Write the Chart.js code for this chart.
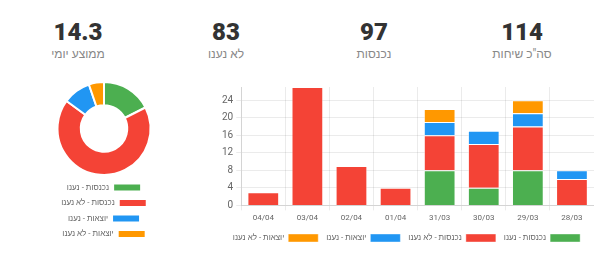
<!DOCTYPE html>
<html>
<head>
  <meta charset="utf-8">
  <title>Calls dashboard</title>
  <script src="https://cdn.jsdelivr.net/npm/chart.js@4/dist/chart.umd.min.js"></script>
  <style>
    body { margin: 0; width: 600px; height: 268px; background: #fff; font-family: Roboto, "Liberation Sans", sans-serif; overflow: hidden; }
    .stats { position: absolute; top: 17px; left: 4px; width: 592px; display: flex; direction: rtl; }
    .stat { flex: 1; text-align: center; }
    .num { font-size: 24px; font-weight: 900; color: #333; line-height: 30px; }
    .lbl { font-size: 12px; color: #888; margin-top: 0px; }
    #pieBox { position: absolute; left: 30px; top: 81px; width: 148px; height: 167px; }
    #barBox { position: absolute; left: 219px; top: 78px; width: 375px; height: 174px; }
  </style>
</head>
<body>

  <div class="stats">
    <div class="stat"><div class="num">114</div><div class="lbl">סה"כ שיחות</div></div>
    <div class="stat"><div class="num">97</div><div class="lbl">נכנסות</div></div>
    <div class="stat"><div class="num">83</div><div class="lbl">לא נענו</div></div>
    <div class="stat"><div class="num">14.3</div><div class="lbl">ממוצע יומי</div></div>
  </div>

  <div id="pieBox"><canvas id="pie"></canvas></div>
  <div id="barBox"><canvas id="bar"></canvas></div>

<script>
  const days = ['04/04', '03/04', '02/04', '01/04', '31/03', '30/03', '29/03', '28/03'];
  const seriesNames = ['נכנסות - נענו', 'נכנסות - לא נענו', 'יוצאות - נענו', 'יוצאות - לא נענו'];
  const colors = ['#4CAF50', '#F44336', '#2196F3', '#FF9800'];

  const inAnswered = [0, 0, 0, 0, 8, 4, 8, 0];
  const inMissed = [3, 27, 9, 4, 8, 10, 10, 6];
  const outAnswered = [0, 0, 0, 0, 3, 3, 3, 2];
  const outMissed = [0, 0, 0, 0, 3, 0, 3, 0];

  const totals = [20, 77, 11, 6];

  Chart.defaults.font.family = 'Roboto, "Liberation Sans", sans-serif';
  Chart.defaults.color = '#666';
  Chart.defaults.animation = false;

  new Chart(document.getElementById('pie'), {
    type: 'doughnut',
    data: {
      labels: seriesNames,
      datasets: [{
        data: totals,
        backgroundColor: colors,
        borderColor: '#fff',
        borderWidth: 2
      }]
    },
    options: {
      responsive: true,
      maintainAspectRatio: false,
      cutout: '50%',
      events: [],
      plugins: {
        legend: {
          position: 'bottom',
          rtl: true,
          labels: { boxWidth: 28, boxHeight: 8, padding: 7.5, font: { size: 8 } }
        },
        tooltip: { enabled: false }
      }
    }
  });

  const stacks = [inAnswered, inMissed, outAnswered, outMissed];

  new Chart(document.getElementById('bar'), {
    type: 'bar',
    data: {
      labels: days,
      datasets: stacks.map((vals, i) => ({
        label: seriesNames[i],
        data: vals,
        backgroundColor: colors[i],
        borderColor: 'rgba(255,255,255,0.4)',
        borderWidth: 1
      }))
    },
    options: {
      responsive: true,
      maintainAspectRatio: false,
      events: [],
      scales: {
        x: {
          stacked: true,
          grid: { color: 'rgba(0,0,0,0.08)', offset: true, tickLength: 5 },
          ticks: { font: { size: 8 } }
        },
        y: {
          stacked: true,
          min: 0,
          max: 27,
          grid: { color: 'rgba(0,0,0,0.08)', tickLength: 5 },
          ticks: { stepSize: 4, font: { size: 10 } },
          afterBuildTicks: (scale) => {
            scale.ticks = scale.ticks.filter(t => t.value % 4 === 0);
          }
        }
      },
      plugins: {
        legend: {
          position: 'bottom',
          rtl: true,
          labels: { boxWidth: 30, boxHeight: 8, padding: 8, font: { size: 8 } }
        },
        tooltip: { enabled: false }
      }
    }
  });
</script>
</body>
</html>
